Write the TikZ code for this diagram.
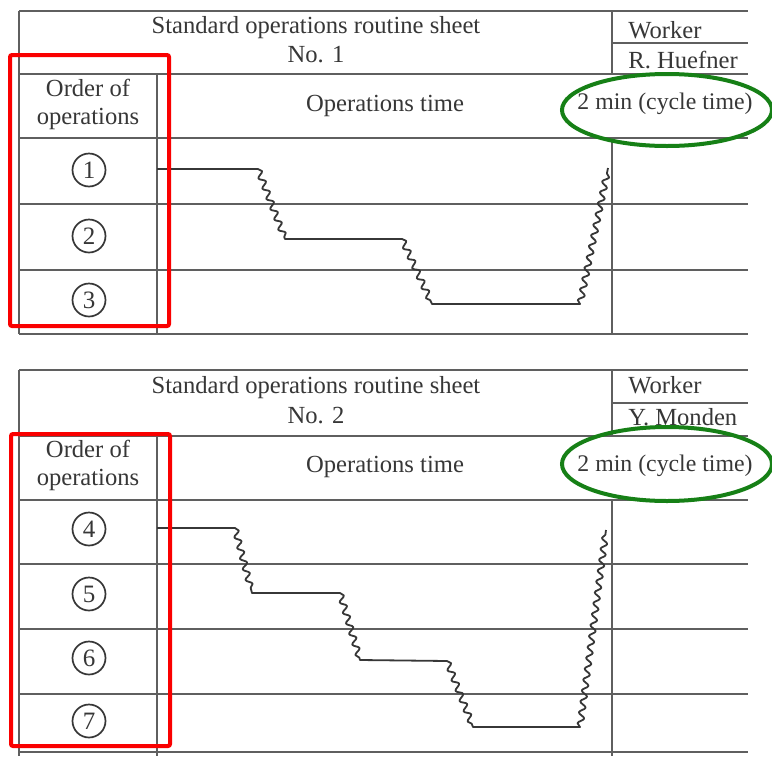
\documentclass[tikz,border=0pt]{standalone}
\usepackage{fontspec}
\setmainfont{Liberation Serif}
\usetikzlibrary{decorations.pathmorphing,shapes.geometric}

\definecolor{linegray}{RGB}{95,95,95}
\definecolor{ink}{RGB}{55,55,55}
\definecolor{markred}{RGB}{250,0,0}
\definecolor{markgreen}{RGB}{22,128,22}

\begin{document}
\begin{tikzpicture}[x=0.5pt,y=-0.5pt,
  gridline/.style={draw=linegray,line width=0.9pt},
  lbl/.style={font=\fontsize{12.3}{14}\selectfont,text=ink,inner sep=0pt},
  cyclelbl/.style={lbl,font=\fontsize{11.9}{14}\selectfont},
  opnum/.style={circle,draw=ink,line width=0.85pt,minimum size=16.5pt,inner sep=0pt,
    font=\fontsize{12.5}{12.5}\selectfont,text=ink},
  flow/.style={draw=ink,line width=0.9pt,line join=round},
  wave/.style={decoration={snake,amplitude=1.5pt,segment length=5.5pt}},
  redbox/.style={draw=markred,line width=2pt,rounded corners=1pt},
  greenring/.style={ellipse,draw=markgreen,line width=2pt,inner sep=0pt}
]
\useasboundingbox[fill=white] (0,0) rectangle (772,756);

% ---------------- Sheet No. 1 ----------------
\path[gridline]
  (19,11) -- (748,11)
  (19,74) -- (748,74)
  (612,43) -- (748,43)
  (19,138) -- (748,138)
  (19,204) -- (748,204)
  (19,270) -- (748,270)
  (19,334) -- (748,334)
  (19,11) -- (19,334)
  (157,74) -- (157,334)
  (612,11) -- (612,74)
  (612,138) -- (612,334);

\node[lbl,anchor=base] (t1a) at (316,33) {Standard operations routine sheet};
\node[lbl,anchor=base] (t1b) at (316,62) {No. 1};
\node[lbl,anchor=base west] (w1a) at (628,38) {Worker};
\node[lbl,anchor=base west] (w1b) at (628,68) {R. Huefner};
\node[lbl,anchor=base] (o1a) at (88,96) {Order of};
\node[lbl,anchor=base] (o1b) at (88,124) {operations};
\node[lbl,anchor=base] (h1) at (385,111) {Operations time};
\node[cyclelbl,anchor=base] (c1) at (665,109) {2 min (cycle time)};

\node[opnum] (n1) at (89,170) {1};
\node[opnum] (n2) at (89,236) {2};
\node[opnum] (n3) at (89,300) {3};

% work path of sheet 1
\coordinate (s1)  at (157,169);
\coordinate (a1)  at (258,169);
\coordinate (b1)  at (285,239);
\coordinate (a2)  at (402,239);
\coordinate (b2)  at (432,304);
\coordinate (a3)  at (580,304);
\coordinate (e1)  at (608,168);
\draw[flow] (s1) -- (a1) decorate[wave]{-- (b1)} -- (a2)
  decorate[wave]{-- (b2)} -- (a3) decorate[wave]{-- (e1)};

\node[redbox,minimum width=79.5pt,minimum height=135.5pt,inner sep=0pt] (r1) at (89.5,190.5) {};
\node[greenring,minimum width=105pt,minimum height=36pt] (g1) at (667,110) {};

% ---------------- Sheet No. 2 ----------------
\path[gridline]
  (19,370) -- (748,370)
  (612,403) -- (748,403)
  (19,436) -- (748,436)
  (19,500) -- (748,500)
  (19,564) -- (748,564)
  (19,629) -- (748,629)
  (19,694) -- (748,694)
  (19,752) -- (748,752)
  (19,370) -- (19,756)
  (157,436) -- (157,756)
  (612,370) -- (612,436)
  (612,500) -- (612,756);

\node[lbl,anchor=base] (t2a) at (316,393) {Standard operations routine sheet};
\node[lbl,anchor=base] (t2b) at (316,423) {No. 2};
\node[lbl,anchor=base west] (w2a) at (628,393) {Worker};
\node[lbl,anchor=base west] (w2b) at (628,425) {Y. Monden};
\node[lbl,anchor=base] (o2a) at (88,457) {Order of};
\node[lbl,anchor=base] (o2b) at (88,485) {operations};
\node[lbl,anchor=base] (h2) at (385,472) {Operations time};
\node[cyclelbl,anchor=base] (c2) at (665,471) {2 min (cycle time)};

\node[opnum] (n4) at (89,529) {4};
\node[opnum] (n5) at (89,594) {5};
\node[opnum] (n6) at (89,658) {6};
\node[opnum] (n7) at (89,721) {7};

% work path of sheet 2
\coordinate (s2)  at (157,528);
\coordinate (p1)  at (235,528);
\coordinate (q1)  at (252,593);
\coordinate (p2)  at (340,593);
\coordinate (q2)  at (360,660);
\coordinate (p3)  at (447,661);
\coordinate (q3)  at (473,727);
\coordinate (p4)  at (580,727);
\coordinate (e2)  at (606,530);
\draw[flow] (s2) -- (p1) decorate[wave]{-- (q1)} -- (p2)
  decorate[wave]{-- (q2)} -- (p3) decorate[wave]{-- (q3)} -- (p4)
  decorate[wave]{-- (e2)};

\node[redbox,minimum width=79.5pt,minimum height=156pt,inner sep=0pt] (r2) at (90.5,590) {};
\node[greenring,minimum width=105pt,minimum height=37pt] (g2) at (667,464) {};
\end{tikzpicture}
\end{document}
